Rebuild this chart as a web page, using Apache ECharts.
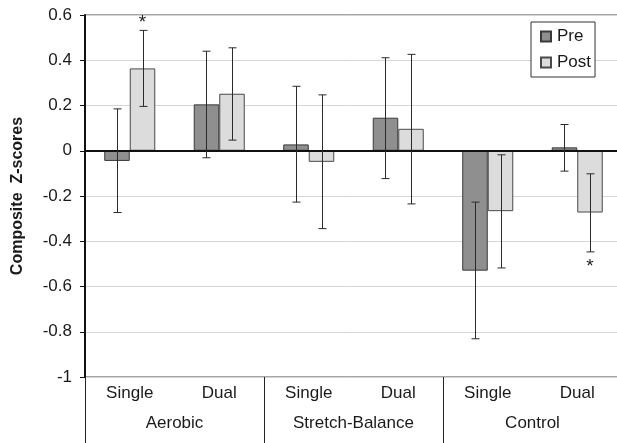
<!DOCTYPE html>
<html>
<head>
<meta charset="utf-8">
<script src="https://cdn.jsdelivr.net/npm/echarts@6/dist/echarts.min.js"></script>
<style>
  html, body { margin: 0; padding: 0; background: #fff; }
  #main { width: 617px; height: 443px; }
</style>
</head>
<body>
<div id="main"></div>
<script>
// categories
const conditions = ['Single', 'Dual', 'Single', 'Dual', 'Single', 'Dual'];
const groups = ['Aerobic', 'Stretch-Balance', 'Control'];
const yTicks = [-1, -0.8, -0.6, -0.4, -0.2, 0, 0.2, 0.4, 0.6];

// series values
const preMeans = [-0.045, 0.205, 0.028, 0.146, -0.53, 0.015];
const postMeans = [0.364, 0.252, -0.049, 0.097, -0.267, -0.273];
const preLow = [-0.273, -0.031, -0.227, -0.123, -0.831, -0.09];
const preHigh = [0.185, 0.44, 0.285, 0.411, -0.227, 0.116];
const postLow = [0.196, 0.047, -0.344, -0.235, -0.518, -0.447];
const postHigh = [0.532, 0.455, 0.247, 0.426, -0.018, -0.102];
// significance stars: [category index, series (0 pre / 1 post), y]
const stars = [[0, 1, 0.578], [5, 1, -0.5]];

const BAR_FRAC = 0.285;

const errData = [];
preMeans.forEach((v, i) => errData.push([i, 0, preLow[i], preHigh[i]]));
postMeans.forEach((v, i) => errData.push([i, 1, postLow[i], postHigh[i]]));

function barShift(api, which) {
  const band = api.size([1, 0])[0];
  const w = band * BAR_FRAC;
  return which === 0 ? -w / 2 : w / 2;
}

const chart = echarts.init(document.getElementById('main'), null, { renderer: 'canvas' });

const textStyle = { fontFamily: 'Arial, "Liberation Sans", Helvetica, sans-serif', color: '#1a1a1a' };

chart.setOption({
  animation: false,
  textStyle: textStyle,
  grid: {
    left: 85, top: 15, width: 537, height: 362,
    outerBoundsMode: 'none', containLabel: false,
    show: true, borderColor: '#4a4a4a', borderWidth: 1, backgroundColor: 'transparent'
  },
  legend: {
    left: 531, top: 22,
    orient: 'vertical',
    itemWidth: 10, itemHeight: 10, itemGap: 9,
    padding: [6, 4, 6, 9],
    borderColor: '#333', borderWidth: 1,
    backgroundColor: '#fff',
    textStyle: { fontSize: 17, color: '#1a1a1a', fontFamily: textStyle.fontFamily, padding: [0, 0, 0, 1] },
    data: [
      { name: 'Pre', icon: 'rect' },
      { name: 'Post', icon: 'rect' }
    ]
  },
  xAxis: [
    {
      type: 'category',
      data: conditions,
      position: 'bottom',
      axisLine: { show: true, lineStyle: { color: '#222', width: 2 } },
      axisTick: { show: false },
      axisLabel: { fontSize: 17, color: '#1a1a1a', margin: 8 },
      splitLine: { show: false }
    },
    {
      type: 'category',
      data: groups,
      position: 'bottom',
      axisLine: { show: false },
      axisTick: { show: true, length: 66, inside: false, lineStyle: { color: '#222', width: 1 } },
      axisLabel: { fontSize: 17, color: '#1a1a1a', margin: 38 },
      splitLine: { show: false }
    }
  ],
  yAxis: {
    type: 'value',
    min: yTicks[0], max: yTicks[yTicks.length - 1], interval: 0.2,
    name: 'Composite  Z-scores',
    nameLocation: 'middle',
    nameGap: 59,
    nameTextStyle: { fontSize: 16, fontWeight: 'bold', color: '#1a1a1a' },
    axisLine: { show: true, lineStyle: { color: '#111', width: 2 } },
    axisTick: { show: true, length: 5, lineStyle: { color: '#111', width: 1 } },
    axisLabel: {
      fontSize: 17, color: '#1a1a1a', margin: 13,
      formatter: v => String(Math.round(v * 10) / 10)
    },
    splitLine: { show: true, lineStyle: { color: '#d6d6d6', width: 1 } }
  },
  series: [
    {
      name: 'Pre', type: 'bar', data: preMeans,
      barWidth: (BAR_FRAC * 100) + '%', barGap: '0%',
      itemStyle: { color: '#8f8f8f', borderColor: '#3a3a3a', borderWidth: 1 },
      markLine: {
        silent: true, symbol: 'none', label: { show: false },
        lineStyle: { color: '#111', width: 2, type: 'solid' },
        data: [{ yAxis: 0 }]
      }
    },
    {
      name: 'Post', type: 'bar', data: postMeans,
      barWidth: (BAR_FRAC * 100) + '%', barGap: '0%',
      itemStyle: { color: '#dcdcdc', borderColor: '#4a4a4a', borderWidth: 1 }
    },
    {
      type: 'custom',
      z: 5,
      data: errData,
      renderItem: function (params, api) {
        const cat = api.value(0);
        const dx = barShift(api, api.value(1));
        const lo = api.coord([cat, api.value(2)]);
        const hi = api.coord([cat, api.value(3)]);
        const x = Math.round(lo[0] + dx) + 0.5;
        const cap = 4;
        const st = { stroke: '#2a2a2a', lineWidth: 1 };
        return {
          type: 'group',
          children: [
            { type: 'line', shape: { x1: x, y1: hi[1], x2: x, y2: lo[1] }, style: st },
            { type: 'line', shape: { x1: x - cap, y1: hi[1], x2: x + cap, y2: hi[1] }, style: st },
            { type: 'line', shape: { x1: x - cap, y1: lo[1], x2: x + cap, y2: lo[1] }, style: st }
          ]
        };
      }
    },
    {
      type: 'custom',
      z: 6,
      data: stars,
      renderItem: function (params, api) {
        const cat = api.value(0);
        const dx = barShift(api, api.value(1));
        const p = api.coord([cat, api.value(2)]);
        return {
          type: 'text',
          style: {
            x: p[0] + dx, y: p[1] + 3, text: '*',
            fontSize: 19, fontFamily: textStyle.fontFamily,
            fill: '#222', align: 'center', verticalAlign: 'middle'
          }
        };
      }
    }
  ]
});
</script>
</body>
</html>
